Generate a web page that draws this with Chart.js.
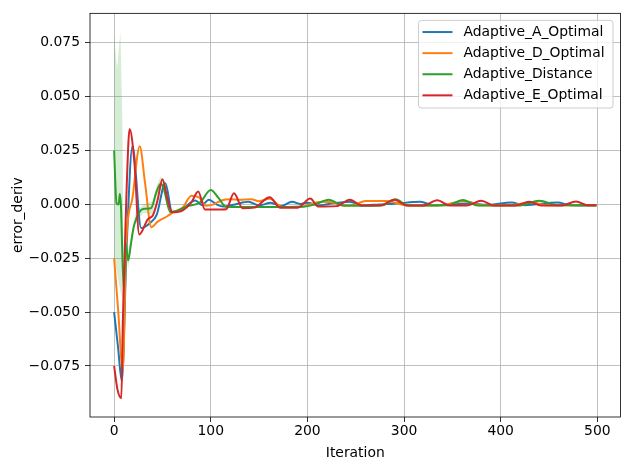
<!DOCTYPE html>
<html>
<head>
<meta charset="utf-8">
<script src="https://cdn.jsdelivr.net/npm/chart.js@4.4.1/dist/chart.umd.min.js"></script>
<style>
  html, body { margin: 0; padding: 0; background: #fff; }
  canvas { display: block; }
</style>
</head>
<body>
<canvas id="chart" width="630" height="470"></canvas>
<script>
// legend order = plotting order of the original figure
const seriesNames = ['Adaptive_A_Optimal', 'Adaptive_D_Optimal', 'Adaptive_Distance', 'Adaptive_E_Optimal'];
const seriesColors = ['#1f77b4', '#ff7f0e', '#2ca02c', '#d62728'];

// Adaptive_A_Optimal
const iterA = [0, 4, 8, 13, 19, 28, 38, 44, 53, 60, 71, 84, 91, 98, 106, 113, 125, 139, 150, 162, 173, 184, 193, 200, 212, 222, 244, 256, 275, 290, 317, 330, 350, 370, 385, 411, 425, 459, 472, 499];
const valA = [-0.050, -0.066, -0.082, -0.019, 0.027, -0.011, -0.0083, -0.0049, 0.0098, -0.0035, -0.002, 0.0018, -0.0003, 0.0022, 0.0, -0.001, 0.0, 0.0012, -0.0005, 0.0008, -0.0008, 0.0012, 0.0002, 0.0008, -0.0005, 0.0002, 0.0012, -0.0005, 0.0, 0.0003, 0.0012, -0.0004, 0.0, 0.0004, -0.0002, 0.0009, -0.0004, 0.0009, -0.0004, -0.0005];

// Adaptive_D_Optimal
const iterD = [0, 4, 9, 12.5, 19, 26.5, 32, 38.5, 45, 55, 61, 71, 80, 88, 95, 103, 111, 120, 130, 142, 150, 161, 174, 195, 208, 216, 228, 238, 250, 260, 282, 297, 310, 340, 359, 367, 380, 410, 433, 448, 499];
const valD = [-0.025, -0.048, -0.077, -0.018, 0.003, 0.027, 0.010, -0.0106, -0.008, -0.0055, -0.0037, -0.0014, 0.004, 0.0032, -0.0006, 0.0, 0.0018, 0.0024, 0.0022, 0.0024, 0.0015, 0.0026, -0.0012, -0.001, 0.0008, 0.0012, 0.0008, -0.0006, 0.0, 0.0016, 0.0016, 0.0, -0.0005, -0.0004, 0.0014, 0.0012, -0.0004, -0.0003, 0.0009, -0.0004, -0.0004];

// Adaptive_Distance
const iterG = [0, 2.5, 4.6, 6, 7, 10, 12, 14.5, 17.5, 20, 23, 27, 31, 38, 44, 48, 51, 58, 65, 75, 89, 100, 108, 116, 130, 150, 170, 195, 208, 222, 237, 260, 278, 291, 304, 345, 361, 376, 420, 440, 459, 499];
const valG = [0.025, 0.0005, 0.0, 0.005, 0.0, -0.040, -0.018, -0.026, -0.018, -0.011, -0.0065, -0.003, -0.002, -0.0018, 0.006, 0.0095, 0.008, -0.0035, -0.003, -0.001, 0.001, 0.0067, 0.003, -0.0012, -0.0012, -0.0012, -0.0012, -0.0011, 0.0, 0.0022, -0.0005, -0.0006, -0.0004, 0.0024, -0.0005, -0.0004, 0.0021, -0.0005, -0.0005, 0.0017, -0.0004, -0.0004];

// Adaptive_E_Optimal
const iterE = [0, 3.5, 7.5, 9, 11, 13, 16, 21, 26, 35, 40, 45, 50, 55, 60, 71, 80, 87, 94, 105, 116, 124, 133, 145, 161, 172, 190, 203, 211, 230, 244, 256, 275, 290, 303, 320, 334.5, 347, 365, 380, 393, 415, 429.5, 442, 463, 478, 490, 499];
const valE = [-0.075, -0.086, -0.090, -0.055, -0.022, 0.008, 0.035, 0.0194, -0.014, -0.0068, -0.0052, 0.002, 0.0117, 0.003, -0.0037, -0.0028, 0.001, 0.006, -0.0024, -0.0024, -0.0022, 0.0052, -0.0018, -0.0015, 0.0033, -0.0016, -0.0015, 0.0027, -0.001, -0.0008, 0.0022, -0.0005, -0.0005, 0.0022, -0.0005, -0.0005, 0.0019, -0.0005, -0.0005, 0.0017, -0.0005, -0.0005, 0.0012, -0.0005, -0.0005, 0.0013, -0.0004, -0.0004];

// spread band of Adaptive_Distance (only wide at the start)
const bandIter = [0, 3, 6.5, 8.5, 10, 12, 14.5, 17.5, 22, 30, 40, 44, 48, 52, 58, 62];
const bandHigh = [0.079, 0.063, 0.080, 0.040, -0.036, -0.015, -0.022, -0.015, -0.004, 0.0, 0.0015, 0.0085, 0.013, 0.011, -0.002, -0.0025];
const bandLow = [-0.025, -0.032, -0.040, -0.044, -0.044, -0.021, -0.030, -0.021, -0.009, -0.004, -0.0045, 0.004, 0.0065, 0.005, -0.0055, -0.0035];

const xTicks = [0, 100, 200, 300, 400, 500];
const yTicks = [-0.075, -0.05, -0.025, 0, 0.025, 0.05, 0.075];
const yTickLabels = ['\u22120.075', '\u22120.050', '\u22120.025', '0.000', '0.025', '0.050', '0.075'];

const FONT_FAMILY = '"DejaVu Sans", sans-serif';
const FONT_SIZE = 13.9;

function toPoints(xs, ys) {
    return xs.map((x, i) => ({ x: x, y: ys[i] }));
}

const seriesData = [toPoints(iterA, valA), toPoints(iterD, valD), toPoints(iterG, valG), toPoints(iterE, valE)];

const datasets = seriesData.map((pts, i) => ({
    label: seriesNames[i],
    data: pts,
    borderColor: seriesColors[i],
    backgroundColor: seriesColors[i],
    borderWidth: 2,
    pointRadius: 0,
    fill: false,
    cubicInterpolationMode: 'monotone',
    order: 3 - i            // last series ends up on top
}));

datasets.push({
    label: 'band_hi',
    data: toPoints(bandIter, bandHigh),
    borderWidth: 0,
    pointRadius: 0,
    tension: 0,
    fill: '+1',
    backgroundColor: 'rgba(44,160,44,0.2)',
    order: 10
});
datasets.push({
    label: 'band_lo',
    data: toPoints(bandIter, bandLow),
    borderWidth: 0,
    pointRadius: 0,
    tension: 0,
    fill: false,
    order: 11
});

// black frame round the plot area, like matplotlib spines
const frame = {
    id: 'frame',
    afterDatasetsDraw(chart) {
        const { ctx, chartArea: a } = chart;
        ctx.save();
        ctx.strokeStyle = '#000';
        ctx.lineWidth = 0.8;
        ctx.strokeRect(a.left, a.top, a.right - a.left, a.bottom - a.top);
        ctx.restore();
    }
};

// legend box in the upper right corner
const legendBox = {
    id: 'legendBox',
    afterDraw(chart) {
        const { ctx, chartArea: a } = chart;
        ctx.save();
        ctx.font = FONT_SIZE + 'px ' + FONT_FAMILY;
        const textW = Math.max(...seriesNames.map(n => ctx.measureText(n).width));
        const w = 4 + 30 + 11 + textW + 8.5;
        const h = 87.7;
        const x0 = a.right - 7.5 - w;
        const y0 = a.top + 7;
        const r = 3;

        ctx.beginPath();
        ctx.moveTo(x0 + r, y0);
        ctx.lineTo(x0 + w - r, y0);
        ctx.arcTo(x0 + w, y0, x0 + w, y0 + r, r);
        ctx.lineTo(x0 + w, y0 + h - r);
        ctx.arcTo(x0 + w, y0 + h, x0 + w - r, y0 + h, r);
        ctx.lineTo(x0 + r, y0 + h);
        ctx.arcTo(x0, y0 + h, x0, y0 + h - r, r);
        ctx.lineTo(x0, y0 + r);
        ctx.arcTo(x0, y0, x0 + r, y0, r);
        ctx.closePath();
        ctx.fillStyle = 'rgba(255,255,255,0.8)';
        ctx.fill();
        ctx.strokeStyle = '#cccccc';
        ctx.lineWidth = 1;
        ctx.stroke();

        ctx.textBaseline = 'middle';
        ctx.textAlign = 'left';
        seriesNames.forEach((name, i) => {
            const y = y0 + 11.7 + i * 21.1;
            ctx.strokeStyle = seriesColors[i];
            ctx.lineWidth = 2;
            ctx.beginPath();
            ctx.moveTo(x0 + 4, y);
            ctx.lineTo(x0 + 34, y);
            ctx.stroke();
            ctx.fillStyle = '#000';
            ctx.fillText(name, x0 + 45, y + 0.5);
        });
        ctx.restore();
    }
};

const tickFont = { family: FONT_FAMILY, size: FONT_SIZE };

new Chart(document.getElementById('chart'), {
    type: 'line',
    data: { datasets: datasets },
    options: {
        responsive: false,
        animation: false,
        layout: { padding: { top: 10.3, right: 9.5, left: 0, bottom: 0 } },
        plugins: {
            legend: { display: false },
            tooltip: { enabled: false }
        },
        scales: {
            x: {
                type: 'linear',
                min: -24.95,
                max: 523.95,
                afterBuildTicks: s => { s.ticks = xTicks.map(v => ({ value: v })); },
                afterFit: s => { s.height = 53; },
                grid: { color: '#b0b0b0', lineWidth: 0.8, tickColor: '#000', tickWidth: 0.8, tickLength: 5 },
                border: { display: false },
                ticks: { color: '#000', font: tickFont, padding: 1, maxRotation: 0, callback: v => String(v) },
                title: { display: true, text: 'Iteration', color: '#000', font: tickFont, padding: { top: 0, bottom: 8.5 } }
            },
            y: {
                type: 'linear',
                min: -0.0987,
                max: 0.0887,
                afterBuildTicks: s => { s.ticks = yTicks.map(v => ({ value: v })); },
                afterFit: s => { s.width = 90; },
                grid: { color: '#b0b0b0', lineWidth: 0.8, tickColor: '#000', tickWidth: 0.8, tickLength: 5 },
                border: { display: false },
                ticks: {
                    color: '#000',
                    font: tickFont,
                    padding: 5,
                    callback: (v, i) => yTickLabels[i]
                },
                title: { display: true, text: 'error_deriv', color: '#000', font: tickFont, padding: { top: 10, bottom: 0 } }
            }
        }
    },
    plugins: [frame, legendBox]
});
</script>
</body>
</html>
